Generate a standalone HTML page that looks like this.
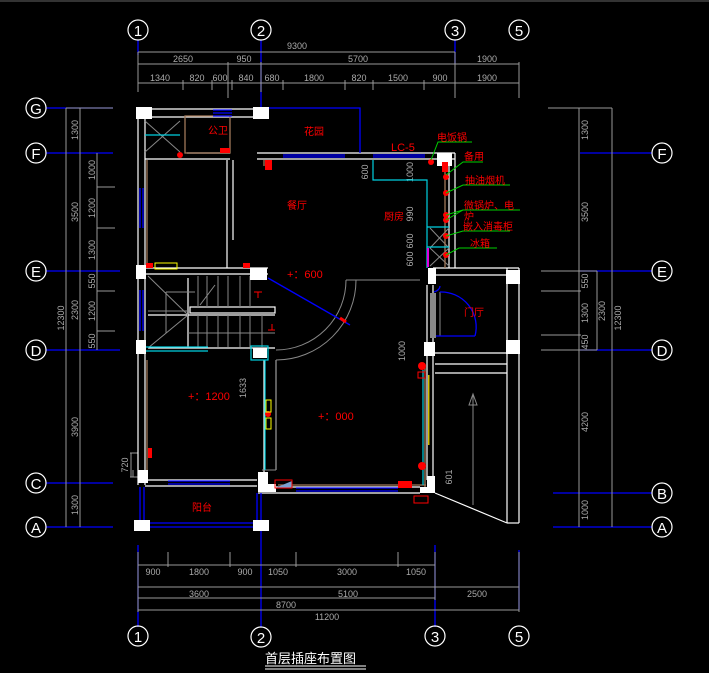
<!DOCTYPE html>
<html><head><meta charset="utf-8"><style>
html,body{margin:0;padding:0;background:#000;}
svg{display:block}
text{font-family:"Liberation Sans","Noto Sans CJK SC",sans-serif}
</style></head><body>
<svg width="709" height="673" viewBox="0 0 709 673" xmlns="http://www.w3.org/2000/svg">
<rect width="709" height="673" fill="#000"/>
<rect x="0" y="0" width="709" height="2" fill="#333"/>
<!-- axis lines blue -->
<g stroke="#0000ff" stroke-width="1.3">
<line x1="138" y1="40" x2="138" y2="55"/><line x1="261" y1="40" x2="261" y2="110"/><line x1="455" y1="40" x2="455" y2="64"/>
<line x1="138" y1="545" x2="138" y2="627"/><line x1="261" y1="520" x2="261" y2="627"/><line x1="435" y1="545" x2="435" y2="627"/><line x1="519" y1="550" x2="519" y2="610"/>
<line x1="46" y1="108" x2="113" y2="108"/><line x1="46" y1="153" x2="113" y2="153"/><line x1="46" y1="271" x2="120" y2="271"/><line x1="46" y1="350" x2="120" y2="350"/><line x1="46" y1="483" x2="113" y2="483"/><line x1="46" y1="527" x2="113" y2="527"/>
<line x1="580" y1="153" x2="652" y2="153"/><line x1="580" y1="271" x2="652" y2="271"/><line x1="580" y1="350" x2="652" y2="350"/><line x1="553" y1="493" x2="652" y2="493"/><line x1="553" y1="527" x2="652" y2="527"/>
</g>
<!-- axis circles -->
<g fill="none" stroke="#fff" stroke-width="1.2">
<circle cx="138" cy="30" r="10"/><circle cx="261" cy="30" r="10"/><circle cx="455" cy="30" r="10"/><circle cx="519" cy="30" r="10"/>
<circle cx="138" cy="636" r="10"/><circle cx="261" cy="637" r="10"/><circle cx="435" cy="636" r="10"/><circle cx="519" cy="636" r="10"/>
<circle cx="36" cy="108" r="10"/><circle cx="36" cy="153" r="10"/><circle cx="36" cy="271" r="10"/><circle cx="36" cy="350" r="10"/><circle cx="36" cy="483" r="10"/><circle cx="36" cy="527" r="10"/>
<circle cx="662" cy="153" r="10"/><circle cx="662" cy="271" r="10"/><circle cx="662" cy="350" r="10"/><circle cx="662" cy="493" r="10"/><circle cx="662" cy="527" r="10"/>
</g>
<g fill="#fff" font-size="15" text-anchor="middle">
<text x="138" y="36">1</text><text x="261" y="36">2</text><text x="455" y="36">3</text><text x="519" y="36">5</text>
<text x="138" y="642">1</text><text x="261" y="643">2</text><text x="435" y="642">3</text><text x="519" y="642">5</text>
<text x="36" y="114">G</text><text x="36" y="159">F</text><text x="36" y="277">E</text><text x="36" y="356">D</text><text x="36" y="489">C</text><text x="36" y="533">A</text>
<text x="662" y="159">F</text><text x="662" y="277">E</text><text x="662" y="356">D</text><text x="662" y="499">B</text><text x="662" y="533">A</text>
</g>
<!-- dimension lines -->
<g stroke="#999" stroke-width="1">
<line x1="138" y1="52" x2="455" y2="52"/><line x1="138" y1="64" x2="519" y2="64"/><line x1="138" y1="83" x2="519" y2="83"/>
<line x1="138" y1="52" x2="138" y2="92"/><line x1="228" y1="62" x2="228" y2="98"/><line x1="261" y1="62" x2="261" y2="92"/><line x1="455" y1="52" x2="455" y2="98"/><line x1="519" y1="62" x2="519" y2="98"/>
<line x1="183" y1="80" x2="183" y2="90"/><line x1="212" y1="80" x2="212" y2="90"/><line x1="232" y1="80" x2="232" y2="90"/><line x1="283" y1="80" x2="283" y2="90"/><line x1="345" y1="80" x2="345" y2="90"/><line x1="373" y1="80" x2="373" y2="90"/><line x1="424" y1="80" x2="424" y2="90"/>
<line x1="138" y1="565" x2="435" y2="565"/><line x1="138" y1="587" x2="519" y2="587"/><line x1="138" y1="598" x2="435" y2="598"/><line x1="138" y1="610" x2="519" y2="610"/>
<line x1="138" y1="552" x2="138" y2="612"/><line x1="168" y1="552" x2="168" y2="567"/><line x1="230" y1="552" x2="230" y2="567"/><line x1="296" y1="552" x2="296" y2="567"/><line x1="398" y1="552" x2="398" y2="567"/><line x1="435" y1="552" x2="435" y2="600"/><line x1="519" y1="552" x2="519" y2="612"/>
<line x1="66" y1="108" x2="66" y2="527"/><line x1="80" y1="108" x2="80" y2="527"/><line x1="97" y1="153" x2="97" y2="350"/>
<line x1="66" y1="108" x2="113" y2="108"/><line x1="97" y1="187" x2="115" y2="187"/><line x1="97" y1="228" x2="115" y2="228"/><line x1="97" y1="291" x2="115" y2="291"/><line x1="97" y1="331" x2="115" y2="331"/>
<line x1="133" y1="470" x2="133" y2="477"/><line x1="130" y1="453" x2="138" y2="453"/><line x1="130" y1="477" x2="138" y2="477"/><line x1="131" y1="453" x2="131" y2="477"/>
<line x1="579" y1="108" x2="579" y2="527"/><line x1="612" y1="108" x2="612" y2="527"/><line x1="597" y1="271" x2="597" y2="350"/>
<line x1="548" y1="108" x2="612" y2="108"/><line x1="541" y1="291" x2="581" y2="291"/><line x1="541" y1="335" x2="581" y2="335"/><line x1="541" y1="271" x2="597" y2="271"/><line x1="541" y1="350" x2="597" y2="350"/>
</g>
<g fill="#aaa" font-size="9" text-anchor="middle" font-family="Liberation Mono">
<text x="297" y="49">9300</text><text x="183" y="62">2650</text><text x="244" y="62">950</text><text x="358" y="62">5700</text><text x="487" y="62">1900</text>
<text x="160" y="81">1340</text><text x="197" y="81">820</text><text x="220" y="81">600</text><text x="246" y="81">840</text><text x="272" y="81">680</text><text x="314" y="81">1800</text><text x="359" y="81">820</text><text x="398" y="81">1500</text><text x="440" y="81">900</text><text x="487" y="81">1900</text>
<text x="153" y="575">900</text><text x="199" y="575">1800</text><text x="245" y="575">900</text><text x="278" y="575">1050</text><text x="347" y="575">3000</text><text x="416" y="575">1050</text>
<text x="199" y="597">3600</text><text x="348" y="597">5100</text><text x="477" y="597">2500</text><text x="286" y="608">8700</text><text x="327" y="620">11200</text>
</g>
<g fill="#aaa" font-size="9" text-anchor="middle" font-family="Liberation Mono">
<text transform="translate(64,318) rotate(-90)">12300</text>
<text transform="translate(78,130) rotate(-90)">1300</text><text transform="translate(78,212) rotate(-90)">3500</text><text transform="translate(78,310) rotate(-90)">2300</text><text transform="translate(78,427) rotate(-90)">3900</text><text transform="translate(78,505) rotate(-90)">1300</text>
<text transform="translate(95,170) rotate(-90)">1000</text><text transform="translate(95,208) rotate(-90)">1200</text><text transform="translate(95,250) rotate(-90)">1300</text><text transform="translate(95,281) rotate(-90)">550</text><text transform="translate(95,311) rotate(-90)">1200</text><text transform="translate(95,341) rotate(-90)">550</text>
<text transform="translate(128,465) rotate(-90)">720</text>
<text transform="translate(588,130) rotate(-90)">1300</text><text transform="translate(588,212) rotate(-90)">3500</text><text transform="translate(588,281) rotate(-90)">550</text><text transform="translate(588,313) rotate(-90)">1300</text><text transform="translate(588,342) rotate(-90)">450</text><text transform="translate(588,422) rotate(-90)">4200</text><text transform="translate(588,510) rotate(-90)">1000</text>
<text transform="translate(605,311) rotate(-90)">2300</text><text transform="translate(621,318) rotate(-90)">12300</text>
<text transform="translate(368,172) rotate(-90)">600</text><text transform="translate(413,172) rotate(-90)">1000</text><text transform="translate(413,214) rotate(-90)">990</text><text transform="translate(413,241) rotate(-90)">600</text><text transform="translate(413,259) rotate(-90)">600</text>
<text transform="translate(246,388) rotate(-90)">1633</text><text transform="translate(405,351) rotate(-90)">1000</text><text transform="translate(452,477) rotate(-90)">601</text>
</g>
<!-- building walls -->
<g stroke="#fff" stroke-width="1.2" fill="none">
<line x1="137" y1="109" x2="268" y2="109"/><line x1="137" y1="117" x2="268" y2="117"/>
<line x1="138" y1="108" x2="138" y2="485"/><line x1="145" y1="118" x2="145" y2="485"/>
<line x1="257" y1="153" x2="455" y2="153"/><line x1="257" y1="159" x2="455" y2="159"/>
<line x1="449" y1="159" x2="449" y2="268"/><line x1="455" y1="153" x2="455" y2="268"/>
<line x1="145" y1="268" x2="268" y2="268"/><line x1="145" y1="274" x2="268" y2="274"/>
<line x1="227" y1="160" x2="227" y2="268"/><line x1="233" y1="160" x2="233" y2="240"/>
<line x1="187" y1="153" x2="230" y2="153"/><line x1="145" y1="159" x2="230" y2="159"/>
<line x1="264" y1="360" x2="264" y2="488"/><line x1="276" y1="360" x2="276" y2="470"/>
<line x1="145" y1="480" x2="257" y2="480"/><line x1="145" y1="486" x2="257" y2="486"/>
<line x1="258" y1="487" x2="420" y2="487"/><line x1="258" y1="493" x2="420" y2="493"/>
<line x1="427" y1="285" x2="427" y2="480"/><line x1="433" y1="285" x2="433" y2="480"/>
<line x1="433" y1="268" x2="519" y2="268"/><line x1="435" y1="275" x2="507" y2="275"/>
<line x1="507" y1="268" x2="507" y2="523"/><line x1="519" y1="268" x2="519" y2="523"/>
<line x1="435" y1="353" x2="507" y2="353"/><line x1="435" y1="364" x2="507" y2="364"/><line x1="435" y1="373" x2="507" y2="373"/>
<line x1="435" y1="493" x2="507" y2="523"/><line x1="507" y1="523" x2="519" y2="523"/>
<line x1="148" y1="315" x2="275" y2="315"/><line x1="148" y1="348" x2="275" y2="348"/>
<rect x="190" y="307" width="85" height="6"/>
<line x1="188" y1="278" x2="188" y2="348"/>
</g>
<g stroke="#888" stroke-width="1" fill="none">
<line x1="148" y1="276" x2="188" y2="315"/><line x1="148" y1="348" x2="188" y2="315"/>
<line x1="148" y1="311" x2="188" y2="311"/><line x1="166" y1="292" x2="195" y2="292"/><line x1="166" y1="292" x2="166" y2="333"/>
<line x1="198" y1="276" x2="198" y2="307"/><line x1="207" y1="276" x2="207" y2="307"/><line x1="218" y1="276" x2="218" y2="307"/><line x1="228" y1="276" x2="228" y2="307"/><line x1="240" y1="276" x2="240" y2="307"/><line x1="250" y1="276" x2="250" y2="307"/>
<line x1="198" y1="315" x2="198" y2="347"/><line x1="207" y1="315" x2="207" y2="347"/><line x1="218" y1="315" x2="218" y2="347"/><line x1="228" y1="315" x2="228" y2="347"/><line x1="240" y1="315" x2="240" y2="347"/><line x1="250" y1="315" x2="250" y2="347"/><line x1="262" y1="315" x2="262" y2="347"/>
<line x1="188" y1="333" x2="275" y2="333"/><line x1="200" y1="305" x2="215" y2="285"/>
<path d="M276 350 A70 70 0 0 0 346 280" /><path d="M276 360 A80 80 0 0 0 356 280"/>
<line x1="346" y1="280" x2="420" y2="280"/>
<line x1="276" y1="360" x2="276" y2="470"/><line x1="276" y1="470" x2="262" y2="470"/>
<line x1="145" y1="121" x2="180" y2="152" stroke="#888"/><line x1="180" y1="121" x2="145" y2="152"/>
<line x1="430" y1="228" x2="449" y2="248"/><line x1="449" y1="228" x2="430" y2="248"/><line x1="430" y1="248" x2="449" y2="266"/><line x1="449" y1="248" x2="430" y2="266"/>
<line x1="473" y1="395" x2="473" y2="505"/><polygon points="469,405 477,405 473,394"/>
<line x1="440" y1="292" x2="440" y2="336"/>
</g>
<!-- brown inner lines -->
<g stroke="#a0785a" stroke-width="1.3" fill="none">
<rect x="185" y="116" width="45" height="37"/>
<line x1="147" y1="160" x2="147" y2="268"/>
<line x1="147" y1="360" x2="147" y2="478"/>
<line x1="264" y1="160" x2="264" y2="166"/>
<line x1="445" y1="165" x2="445" y2="268"/>
<line x1="278" y1="485" x2="426" y2="485"/>
<line x1="425" y1="367" x2="425" y2="487"/>
</g>
<!-- cyan -->
<g stroke="#00d0e0" stroke-width="1.2" fill="none">
<line x1="145" y1="135" x2="180" y2="135"/>
<polyline points="373,160 373,180 427,180 427,268"/>
<line x1="427" y1="227" x2="449" y2="227"/><line x1="427" y1="247" x2="449" y2="247"/>
<line x1="145" y1="347" x2="208" y2="347"/><line x1="145" y1="351" x2="208" y2="351"/>
<rect x="251" y="346" width="17" height="14"/>
<line x1="265" y1="360" x2="265" y2="470"/>
<line x1="423" y1="370" x2="423" y2="485"/>
</g>
<!-- blue windows -->
<g stroke="#0000ff" stroke-width="1.3" fill="none">
<line x1="213" y1="110" x2="232" y2="110"/><line x1="213" y1="113" x2="232" y2="113"/><line x1="213" y1="116" x2="232" y2="116"/>
<polyline points="268,108 360,108 360,153"/>
<line x1="283" y1="155" x2="345" y2="155"/><line x1="283" y1="157" x2="345" y2="157"/>
<line x1="373" y1="155" x2="425" y2="155"/><line x1="373" y1="157" x2="425" y2="157"/>
<line x1="140" y1="188" x2="140" y2="228"/><line x1="143" y1="188" x2="143" y2="228"/>
<line x1="140" y1="290" x2="140" y2="331"/><line x1="143" y1="290" x2="143" y2="331"/>
<line x1="168" y1="481" x2="230" y2="481"/><line x1="168" y1="484" x2="230" y2="484"/>
<line x1="296" y1="488" x2="398" y2="488"/><line x1="296" y1="491" x2="398" y2="491"/>
<line x1="140" y1="487" x2="140" y2="520"/><line x1="144" y1="487" x2="144" y2="520"/>
<line x1="257" y1="493" x2="257" y2="520"/><line x1="261" y1="493" x2="261" y2="520"/>
<line x1="150" y1="523" x2="255" y2="523"/><line x1="150" y1="527" x2="255" y2="527"/>
<line x1="268" y1="278" x2="350" y2="325"/>
<path d="M434 292 Q440 290 440 286"/><path d="M440 292 A35 35 0 0 1 475 336"/><line x1="433" y1="336" x2="475" y2="336"/>
</g>
<!-- pillars -->
<g fill="#fff">
<rect x="136" y="107" width="16" height="12"/><rect x="253" y="107" width="16" height="12"/>
<rect x="437" y="153" width="15" height="13"/>
<rect x="136" y="265" width="10" height="14"/><rect x="250" y="268" width="17" height="12"/>
<rect x="253" y="348" width="14" height="10"/>
<rect x="136" y="340" width="10" height="14"/><rect x="138" y="470" width="10" height="13"/>
<rect x="258" y="472" width="10" height="20"/><rect x="262" y="484" width="14" height="8"/>
<rect x="428" y="268" width="8" height="16"/><rect x="424" y="342" width="11" height="14"/>
<rect x="506" y="270" width="14" height="14"/><rect x="506" y="340" width="14" height="14"/>
<rect x="427" y="476" width="8" height="17"/><rect x="420" y="487" width="14" height="6"/>
<rect x="134" y="520" width="16" height="11"/><rect x="253" y="520" width="16" height="11"/>
</g>
<rect x="430" y="293" width="6" height="45" fill="#888"/>
<rect x="427" y="248" width="2" height="19" fill="#e000e0"/>
<rect x="429" y="232" width="1.5" height="0" fill="none"/>
<rect x="428" y="375" width="1.5" height="70" fill="#d0c000"/>
<polygon points="275,488 292,481 292,488" fill="#7aa0d0"/>
<rect x="275" y="480" width="17" height="8" fill="none" stroke="#f00"/>
<!-- red symbols -->
<g fill="#f00">
<circle cx="180" cy="155" r="3"/><rect x="220" y="148" width="10" height="5"/><rect x="265" y="160" width="7" height="10"/>
<rect x="442" y="162" width="6" height="10"/>
<circle cx="431" cy="162" r="3"/><circle cx="446" cy="177" r="3"/><circle cx="446" cy="193" r="3"/><circle cx="446" cy="215" r="3"/><circle cx="446" cy="220" r="3"/><circle cx="446" cy="236" r="3"/><circle cx="446" cy="255" r="3"/>
<rect x="146" y="263" width="7" height="5"/><rect x="243" y="263" width="7" height="5"/>
<circle cx="268" cy="414" r="3"/><circle cx="422" cy="366" r="4"/><circle cx="422" cy="466" r="4"/>
<rect x="398" y="481" width="14" height="7"/>
<rect x="148" y="448" width="4" height="10"/>
</g>
<rect x="418" y="372" width="7" height="6" fill="none" stroke="#f00"/>
<rect x="414" y="496" width="14" height="7" fill="none" stroke="#f00"/>
<rect x="155" y="263" width="22" height="6" fill="none" stroke="#ff0"/>
<rect x="266" y="400" width="5" height="12" fill="none" stroke="#ff0"/><rect x="266" y="418" width="5" height="11" fill="none" stroke="#ff0"/>
<line x1="340" y1="318" x2="346" y2="322" stroke="#f00" stroke-width="3"/>
<g stroke="#f00" stroke-width="1"><line x1="254" y1="292" x2="262" y2="292"/><line x1="258" y1="292" x2="258" y2="298"/><line x1="268" y1="330" x2="275" y2="330"/><line x1="272" y1="324" x2="272" y2="330"/></g>
<!-- green leaders -->
<g stroke="#00d000" stroke-width="1" fill="none">
<polyline points="431,160 438,142 472,142"/>
<polyline points="446,175 463,162 483,162"/>
<polyline points="446,193 463,185 510,185"/>
<polyline points="446,215 463,210 520,210"/><line x1="446" y1="220" x2="463" y2="210"/>
<polyline points="446,236 463,231 510,231"/>
<polyline points="446,255 459,248 497,248"/>
</g>
<!-- red labels -->
<g fill="#f00" font-size="10">
<text x="208" y="134">公卫</text><text x="304" y="135">花园</text>
<text x="437" y="141">电饭锅</text><text x="391" y="151" font-size="11">LC-5</text>
<text x="464" y="160">备用</text><text x="465" y="184">抽油烟机</text><text x="464" y="209">微锅炉、电</text><text x="464" y="220">炉</text><text x="463" y="230">嵌入消毒柜</text><text x="470" y="247">冰箱</text>
<text x="287" y="209">餐厅</text><text x="384" y="220">厨房</text><text x="464" y="316">门厅</text><text x="192" y="511">阳台</text>
<text x="287" y="278" font-size="11">+：600</text><text x="188" y="400" font-size="11">+：1200</text><text x="318" y="420" font-size="11">+：000</text>
</g>
<!-- title -->
<text x="265" y="663" fill="#fff" font-size="13">首层插座布置图</text>
<line x1="265" y1="666" x2="366" y2="666" stroke="#fff"/><line x1="265" y1="669" x2="366" y2="669" stroke="#fff"/>
</svg>
</body></html>
